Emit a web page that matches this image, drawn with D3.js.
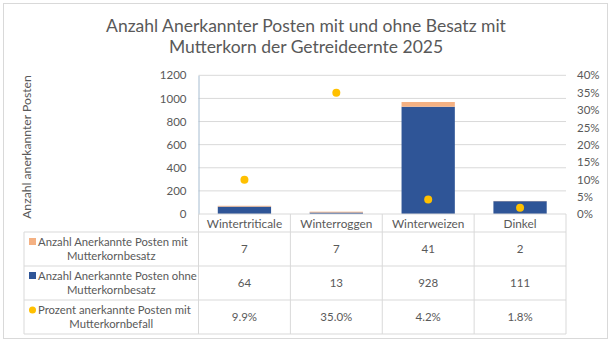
<!DOCTYPE html>
<html><head><meta charset="utf-8">
<script src="https://cdn.jsdelivr.net/npm/d3@7"></script>
<style>body{margin:0;background:#fff}svg{display:block}text{font-family:Lato,"Open Sans",sans-serif;fill:#595959}</style>
</head><body><svg id="c" width="611" height="345"></svg>
<script>
const categories = ["Wintertriticale","Winterroggen","Winterweizen","Dinkel"];
const mitBesatz = [7,7,41,2];
const ohneBesatz = [64,13,928,111];
const prozent = [9.9,35.0,4.2,1.8];
const leftTicks = [0,200,400,600,800,1000,1200];
const rightTicks = [0,5,10,15,20,25,30,35,40];
const seriesNames = [["Anzahl Anerkannte Posten mit","Mutterkornbesatz"],["Anzahl Anerkannte Posten ohne","Mutterkornbesatz"],["Prozent anerkannte Posten mit","Mutterkornbefall"]];
const rowLabels = [mitBesatz.map(String), ohneBesatz.map(String), prozent.map(v=>v.toFixed(1)+"%")];

const svg = d3.select("#c");
const colBlue = "#2F5597", colPeach = "#F4B183", colGold = "#FFC000";
const L = 198.5, R = 566, T = 75.3, B = 214;
const tableLeft = 24, rowTops = [232, 266, 300, 334];

svg.append("rect").attr("x",3.5).attr("y",3.5).attr("width",604).attr("height",335).attr("fill","#fff").attr("stroke","#D9D9D9");

// title
const title = svg.append("text").attr("text-anchor","middle").attr("font-size",17.5).style("fill","#595959");
title.append("tspan").attr("x",306).attr("y",32).text("Anzahl Anerkannter Posten mit und ohne Besatz mit");
title.append("tspan").attr("x",306).attr("y",53).text("Mutterkorn der Getreideernte 2025");

const x = d3.scaleBand().domain(categories).range([L,R]).paddingInner(0.42).paddingOuter(0.21);
const xc = d3.scaleBand().domain(categories).range([L,R]);
const y = d3.scaleLinear().domain([0,1200]).range([B,T]);
const y2 = d3.scaleLinear().domain([0,40]).range([B,T]);

// gridlines
svg.append("g").selectAll("line").data(leftTicks.filter(d=>d>0)).join("line")
  .attr("x1",L).attr("x2",R).attr("y1",d=>y(d)).attr("y2",d=>y(d)).attr("stroke","#D9D9D9");

// left axis
const ga = svg.append("g").attr("transform",`translate(${L},0)`)
  .call(d3.axisLeft(y).tickValues(leftTicks).tickSize(0).tickPadding(12).tickFormat(d=>String(d)));
ga.select(".domain").attr("stroke","#A6BCD0");
ga.selectAll("text").attr("font-size",11.5).style("fill","#595959").style("font-family","Lato");

// right axis
const gr = svg.append("g").attr("transform",`translate(${R},0)`)
  .call(d3.axisRight(y2).tickValues(rightTicks).tickSize(0).tickPadding(11).tickFormat(d=>d+"%"));
gr.select(".domain").remove();
gr.selectAll("text").attr("font-size",11.5).style("fill","#595959").style("font-family","Lato");

// y title
svg.append("text").attr("transform","translate(31,147) rotate(-90)").attr("text-anchor","middle")
  .attr("font-size",12.2).text("Anzahl anerkannter Posten");

// stacked bars
const stackData = categories.map((c,i)=>({cat:c, ohne:ohneBesatz[i], mit:mitBesatz[i]}));
const stack = d3.stack().keys(["ohne","mit"])(stackData);
const colors = {ohne:colBlue, mit:colPeach};
svg.append("g").selectAll("g").data(stack).join("g").attr("fill",s=>colors[s.key])
  .selectAll("rect").data(s=>s).join("rect")
  .attr("x",d=>x(d.data.cat)).attr("width",x.bandwidth())
  .attr("y",d=>y(d[1])).attr("height",d=>y(d[0])-y(d[1]));

// dots
svg.append("g").selectAll("circle").data(prozent).join("circle")
  .attr("cx",(d,i)=>xc(categories[i])+xc.bandwidth()/2).attr("cy",d=>y2(d)).attr("r",4).attr("fill",colGold);

// data table lines
const tl = svg.append("g").attr("stroke","#D9D9D9").attr("fill","none");
tl.append("line").attr("x1",L).attr("x2",R).attr("y1",B).attr("y2",B);
rowTops.forEach(yy=>tl.append("line").attr("x1",tableLeft).attr("x2",R).attr("y1",yy).attr("y2",yy));
tl.append("line").attr("x1",tableLeft).attr("x2",tableLeft).attr("y1",rowTops[0]).attr("y2",rowTops[3]);
tl.append("line").attr("x1",L).attr("x2",L).attr("y1",B).attr("y2",rowTops[3]);
categories.forEach(c=>{const xx = xc(c)+xc.bandwidth();
  tl.append("line").attr("x1",xx).attr("x2",xx).attr("y1",B).attr("y2",rowTops[3]);});

// category labels
svg.append("g").selectAll("text").data(categories).join("text")
  .attr("x",c=>xc(c)+xc.bandwidth()/2).attr("y",227.5).attr("text-anchor","middle").attr("font-size",11.8).text(c=>c);

// table values
rowLabels.forEach((row,ri)=>{
  svg.append("g").selectAll("text").data(row).join("text")
    .attr("x",(d,i)=>xc(categories[i])+xc.bandwidth()/2).attr("y",rowTops[ri]+21)
    .attr("text-anchor","middle").attr("font-size",11.5).text(d=>d);
});

// legend cells
const keyCols = [colPeach, colBlue, colGold];
seriesNames.forEach((lines,ri)=>{
  const top = rowTops[ri];
  const cx = (tableLeft+L)/2;
  svg.append("text").attr("x",38).attr("y",top+13.5).attr("font-size",11.3).text(lines[0]);
  svg.append("text").attr("x",cx).attr("y",top+27.5).attr("text-anchor","middle").attr("font-size",11.3).text(lines[1]);
  if (ri<2) svg.append("rect").attr("x",29).attr("y",top+6).attr("width",7).attr("height",7).attr("fill",keyCols[ri]);
  else svg.append("circle").attr("cx",32.5).attr("cy",top+10).attr("r",3.5).attr("fill",keyCols[ri]);
});
</script></body></html>
